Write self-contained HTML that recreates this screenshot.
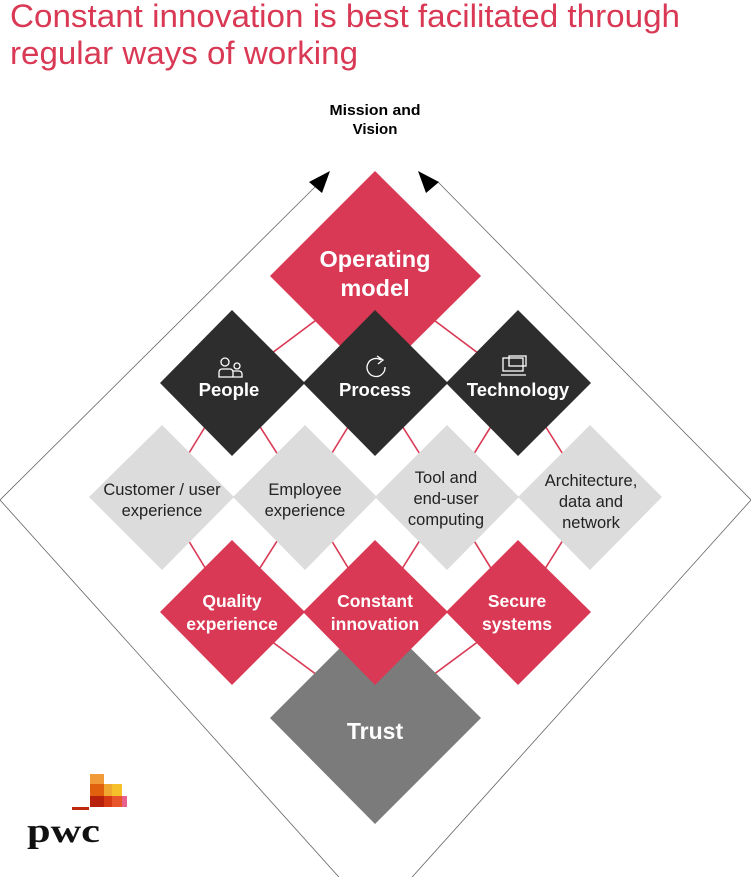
<!DOCTYPE html>
<html><head><meta charset="utf-8"><style>
html,body{margin:0;padding:0;background:#fff;}
svg{display:block;}
text{font-family:"Liberation Sans",Arial,sans-serif;}
</style></head><body>
<svg width="751" height="877" viewBox="0 0 751 877" xmlns="http://www.w3.org/2000/svg">
<text x="10" y="27" font-size="32" fill="#d93954" textLength="670" lengthAdjust="spacingAndGlyphs">Constant innovation is best facilitated through</text>
<text x="10" y="64" font-size="32" fill="#d93954" textLength="348" lengthAdjust="spacingAndGlyphs">regular ways of working</text>
<text x="375" y="115" font-size="15" font-weight="bold" text-anchor="middle" fill="#000" textLength="91" lengthAdjust="spacingAndGlyphs">Mission and</text>
<text x="375" y="134" font-size="15" font-weight="bold" text-anchor="middle" fill="#000">Vision</text>

<polyline points="320,182 0,500 373,915" fill="none" stroke="#666" stroke-width="0.8"/>
<polyline points="438,182 751,500 378,915" fill="none" stroke="#666" stroke-width="0.8"/>
<polygon points="330,171 309,182 322,193" fill="#000"/>
<polygon points="418,171 439,182 426,193" fill="#000"/>

<g stroke="#d93954" stroke-width="1.6">
<line x1="375" y1="276" x2="232" y2="383"/>
<line x1="375" y1="276" x2="518" y2="383"/>
<line x1="232" y1="383" x2="162" y2="497"/>
<line x1="232" y1="383" x2="305" y2="497"/>
<line x1="375" y1="383" x2="305" y2="497"/>
<line x1="375" y1="383" x2="447" y2="497"/>
<line x1="518" y1="383" x2="447" y2="497"/>
<line x1="518" y1="383" x2="590" y2="497"/>
<line x1="162" y1="497" x2="232" y2="612"/>
<line x1="305" y1="497" x2="232" y2="612"/>
<line x1="305" y1="497" x2="375" y2="612"/>
<line x1="447" y1="497" x2="375" y2="612"/>
<line x1="447" y1="497" x2="518" y2="612"/>
<line x1="590" y1="497" x2="518" y2="612"/>
<line x1="232" y1="612" x2="375" y2="718"/>
<line x1="518" y1="612" x2="375" y2="718"/>
</g>

<polygon points="375,171 481,276 375,381 270,276" fill="#d93954"/>
<text x="375" y="267" font-size="23.5" font-weight="bold" fill="#fff" text-anchor="middle">Operating</text>
<text x="375" y="296" font-size="23.5" font-weight="bold" fill="#fff" text-anchor="middle">model</text>

<polygon points="375,613 481,718 375,824 270,718" fill="#7b7b7b"/>
<text x="375" y="739" font-size="23" font-weight="bold" fill="#fff" text-anchor="middle">Trust</text>

<g fill="#2d2d2d">
<polygon points="232,310 305,383 232,456 160,383"/>
<polygon points="375,310 448,383 375,456 303,383"/>
<polygon points="518,310 591,383 518,456 446,383"/>
</g>
<g fill="#fff" font-size="18.5" font-weight="bold" text-anchor="middle">
<text x="229" y="396">People</text>
<text x="375" y="396">Process</text>
<text x="518" y="396">Technology</text>
</g>
<g fill="none" stroke="#fff" stroke-width="1.3">
<circle cx="225" cy="362" r="4"/>
<circle cx="237" cy="366" r="3"/>
<path d="M219,377 v-5 a3,3 0 0 1 3,-3 h8 a3,3 0 0 1 3,3 v5 z"/>
<path d="M233,377 h9 v-3 a3,3 0 0 0 -3,-3 h-6"/>
<path d="M381,360 a9,9 0 1 0 4,7"/>
<path d="M377,356 l6,4 l-5,4"/>
<rect x="503" y="358" width="20" height="13"/>
<rect x="509" y="356" width="17" height="10"/>
<line x1="501" y1="375" x2="526" y2="375"/>
</g>

<g fill="#dcdcdc">
<polygon points="162,425 234,497 162,570 89,497"/>
<polygon points="305,425 377,497 305,570 233,497"/>
<polygon points="447,425 519,497 447,570 375,497"/>
<polygon points="590,425 662,497 590,570 518,497"/>
</g>
<g fill="#222" font-size="16.5" text-anchor="middle">
<text x="162" y="495">Customer / user</text>
<text x="162" y="516">experience</text>
<text x="305" y="495">Employee</text>
<text x="305" y="516">experience</text>
<text x="446" y="483">Tool and</text>
<text x="446" y="504">end-user</text>
<text x="446" y="525">computing</text>
<text x="591" y="486">Architecture,</text>
<text x="591" y="507">data and</text>
<text x="591" y="528">network</text>
</g>

<g fill="#d93954">
<polygon points="232,540 305,612 232,685 160,612"/>
<polygon points="375,540 448,612 375,685 303,612"/>
<polygon points="518,540 591,612 518,685 446,612"/>
</g>
<g fill="#fff" font-size="17.5" font-weight="bold" text-anchor="middle">
<text x="232" y="607">Quality</text>
<text x="232" y="630">experience</text>
<text x="375" y="607">Constant</text>
<text x="375" y="630">innovation</text>
<text x="517" y="607">Secure</text>
<text x="517" y="630">systems</text>
</g>

<rect x="72" y="807" width="17" height="3" fill="#c0280f"/>
<rect x="90" y="774" width="14" height="10" fill="#f09a3a"/>
<rect x="90" y="784" width="14" height="12" fill="#e0600e"/>
<rect x="90" y="796" width="14" height="11" fill="#b8220d"/>
<rect x="104" y="784" width="8" height="12" fill="#f0a830"/>
<rect x="112" y="784" width="10" height="12" fill="#f5c02a"/>
<rect x="104" y="796" width="8" height="11" fill="#d63a14"/>
<rect x="112" y="796" width="10" height="11" fill="#e8552a"/>
<rect x="122" y="796" width="5" height="11" fill="#e8608e"/>
<text x="27" y="842" font-size="34" font-weight="bold" fill="#111" style="font-family:'Liberation Serif',serif" textLength="73" lengthAdjust="spacingAndGlyphs">pwc</text>
</svg>
</body></html>
